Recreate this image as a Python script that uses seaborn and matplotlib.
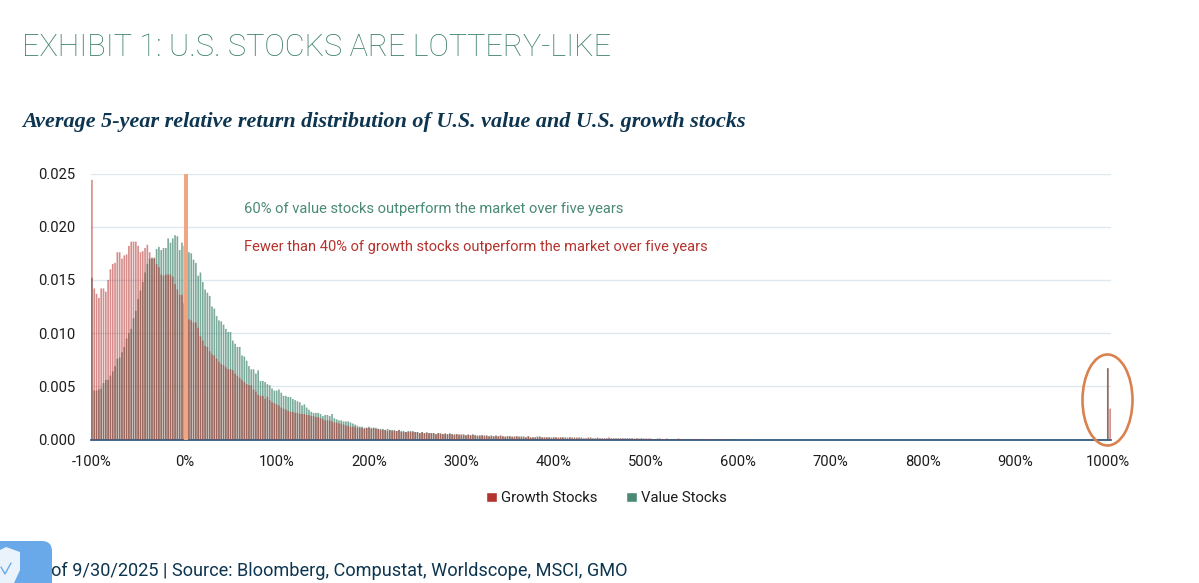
import numpy as np
import pandas as pd
import seaborn as sns
import matplotlib
matplotlib.use("Agg")
import matplotlib.pyplot as plt
from matplotlib.patches import Ellipse, FancyBboxPatch, Polygon, Patch
from matplotlib.lines import Line2D

W, H = 1199, 583

growth_neg = [.0244,.0142,.0137,.0133,.0142,.0142,.0139,.0150,.0160,.0165,.0166,.0176,.0176,.0170,.0173,.0174,.0182,.0186,.0186,.0186,
              .0182,.0176,.0177,.0180,.0183,.0176,.0170,.0171,.0165,.0162,.0155,.0154,.0155,.0155,.0155,.0153,.0146,.0141,.0136,.0136]
value_neg = [.0152,.0046,.0046,.0047,.0048,.0053,.0056,.0056,.0060,.0064,.0069,.0076,.0077,.0082,.0087,.0095,.0100,.0104,.0114,.0121,
             .0132,.0140,.0148,.0157,.0165,.0170,.0171,.0170,.0179,.0181,.0178,.0180,.0180,.0189,.0185,.0189,.0192,.0191,.0178,.0185]
growth_0 = [.0128,.0120,.0113,.0112,.0110,.0110,.0105,.0097,.0093,.0088,.0087,.0083,.0080,.0079,.0076,.0073,.0071,.0070,.0068,.0066,
            .0066,.0065,.0062,.0060,.0058,.0056,.0054,.0052,.0051,.0051,.0047,.0045,.0042,.0041,.0041,.0038,.0040,.0037,.0035,.0034]
value_0 = [.0182,.0180,.0176,.0175,.0169,.0166,.0154,.0157,.0148,.0141,.0138,.0135,.0125,.0123,.0116,.0112,.0111,.0108,.0104,.0101,
           .0101,.0093,.0090,.0087,.0087,.0079,.0078,.0074,.0069,.0066,.0066,.0062,.0065,.0055,.0055,.0054,.0052,.0051,.0048,.0046]
growth_100 = [.0033,.0032,.0030,.0029,.0028,.0027,.0026,.0026,.0025,.0025,.0024,.0024,.0024,.0023,.0023,.0022,.0022,.0021,.0021,.0020,
              .0019,.0018,.0018,.0018,.0017,.0016,.0016,.0015,.0015,.0014,.0013,.0013,.0012,.0012,.0012,.0011,.0011,.0011,.0010,.0011]
value_100 = [.0046,.0047,.0044,.0041,.0041,.0040,.0040,.0038,.0037,.0036,.0035,.0032,.0033,.0030,.0028,.0026,.0025,.0025,.0025,.0024,
             .0022,.0023,.0023,.0022,.0024,.0020,.0019,.0018,.0018,.0017,.0017,.0017,.0016,.0015,.0014,.0013,.0012,.0012,.0011,.0011]
growth_200 = [.0011,.0010,.0011,.0010,.0010,.0009,.0009,.0009,.0008,.0009,.0008,.0008,.0008,.0009,.0007,.0007,.0007,.0007,.0008,.0007,
              .0007,.0007,.0006,.0007,.0006,.0006,.0006,.0006,.0006,.0005,.0006,.0005,.0005,.0006,.0005,.0005,.0005,.0004,.0005,.0005]
value_200 = [.0012,.0011,.0011,.0011,.0010,.0010,.0010,.0009,.0010,.0009,.0009,.0009,.0008,.0009,.0008,.0008,.0007,.0008,.0007,.0008,
             .0007,.0007,.0006,.0007,.0006,.0007,.0006,.0006,.0006,.0005,.0006,.0006,.0005,.0005,.0005,.0006,.0005,.0005,.0005,.0004]
growth_300 = [.0005,.0004,.0004,.0005,.0004,.0004,.0004,.0004,.0003,.0004,.0004,.0003,.0003,.0004,.0003,.0003,.0003,.0004,.0003,.0003,
              .0003,.0003,.0003,.0002,.0003,.0003,.0002,.0003,.0002,.0003,.0002,.0002,.0002,.0003,.0002,.0002,.0002,.0002,.0002,.0002]
value_300 = [.0004,.0005,.0004,.0004,.0004,.0005,.0004,.0003,.0004,.0004,.0003,.0004,.0003,.0003,.0003,.0004,.0003,.0003,.0003,.0002,
             .0003,.0003,.0002,.0003,.0003,.0002,.0003,.0002,.0002,.0003,.0002,.0002,.0002,.0002,.0003,.0002,.0002,.0002,.0002,.0001]
growth_400 = [.0002,.0002,.0002,.0002,.0002,.0001,.0002,.0002,.0002,.0001,.0002,.0001,.0002,.0001,.0001,.0002,.0001,.0001,.0001,.0002,
              .0001,.0001,.0001,.0001,.0002,.0001,.0001,.0001,.0001,.0001,.0001,.0001,.0001,.0001,.0001,.0001,.0001,.0001,.0001,.0001]
value_400 = [.0002,.0002,.0001,.0002,.0002,.0002,.0001,.0002,.0001,.0002,.0001,.0002,.0001,.0001,.0001,.0001,.0002,.0001,.0001,.0001,
             .0001,.0001,.0001,.0001,.0001,.0001,.0001,.0001,.0001,.0001,.0001,.0001,.0001,.0001,.0001,.00005,.0001,.00005,.0001,.00005]
growth_500 = [.0001,.00005,.0001,.00005,.00005,.0001,.00005,.00005,.00005,.0001,.00005,.00005,.00005,.00005,.0001,.00005,.00005,.00005,.00005,.00005,
              .00005,.00005,.00005,.00004,.00005,.00004,.00005,.00004,.00004,.00005,.00004,.00004,.00004,.00004,.00003,.00004,.00003,.00004,.00003,.00003]
value_500 = [.00005,.0001,.00005,.00005,.00005,.00005,.0001,.00005,.00005,.00005,.00005,.00005,.00005,.00004,.00005,.00005,.00004,.00005,.00004,.00004,
             .00004,.00004,.00005,.00004,.00004,.00003,.00004,.00004,.00003,.00004,.00003,.00003,.00004,.00003,.00003,.00003,.00003,.00002,.00003,.00003]
growth_tail = [.0067, .0029]
value_tail = [.0067, 0.0]
tail_bins = [1000, 1002.5]

growth = growth_neg + growth_0 + growth_100 + growth_200 + growth_300 + growth_400 + growth_500 + growth_tail
value = value_neg + value_0 + value_100 + value_200 + value_300 + value_400 + value_500 + value_tail
n_regular = len(growth) - len(tail_bins)
bins = [-100 + 2.5 * i for i in range(n_regular)] + tail_bins

y_ticks = [0, .005, .010, .015, .020, .025]
x_ticks = [-100, 0, 100, 200, 300, 400, 500, 600, 700, 800, 900, 1000]
x_labels = [f"{t}%" for t in x_ticks]

GREEN = "#4a8a75"
RED = "#b5332e"
NAVY = "#0d3550"
FONT = "Roboto"

sns.set_theme(style="white")
plt.rcParams["font.family"] = [FONT, "DejaVu Sans"]

fig = plt.figure(figsize=(W / 100, H / 100), dpi=100, facecolor="white")

def fx(p): return p / W
def fy(p): return 1 - p / H

L, R, T, B = 90.5, 1111, 173.5, 439.5
ax = fig.add_axes([fx(L), fy(B), (R - L) / W, (B - T) / H])
df = pd.DataFrame({"bin": bins, "Growth": growth, "Value": value})

sns.barplot(data=df, x="bin", y="Value", native_scale=True, color=GREEN, alpha=.72,
            saturation=1, width=.72, linewidth=0, errorbar=None, ax=ax, zorder=2)
sns.barplot(data=df, x="bin", y="Growth", native_scale=True, color=RED, alpha=.56,
            saturation=1, width=.72, linewidth=0, errorbar=None, ax=ax, zorder=3)
for bar in ax.patches:
    bar.set_snap(False)

sc = 0.9235
ax.set_xlim((L - 184.3) / sc, (R - 184.3) / sc)
ax.set_ylim(0, .025)
ax.set_xticks(x_ticks, x_labels)
ax.set_yticks(y_ticks, [f"{t:.3f}" for t in y_ticks])
ax.set_xlabel("")
ax.set_ylabel("")
ax.tick_params(axis="both", length=0, labelsize=10.6, labelcolor="#1c1c1c")
ax.tick_params(axis="x", pad=11.5)
ax.tick_params(axis="y", pad=11)
ax.grid(axis="y", color="#dde8ef", linewidth=1.0, zorder=0)
ax.set_axisbelow(True)
for s in ("top", "left", "right"):
    ax.spines[s].set_visible(False)
ax.spines["bottom"].set_color("#1f4e79")
ax.spines["bottom"].set_linewidth(1.2)
ax.set_facecolor("none")

ax.axvline(2, color="#f0a583", linewidth=2.9, zorder=5, solid_capstyle="butt")

fig.text(fx(22), fy(47.5), "EXHIBIT 1: U.S. STOCKS ARE LOTTERY-LIKE", color="#3a7f69",
         fontsize=22.1, fontweight="light", va="center", ha="left")
fig.text(fx(22), fy(122), "Average 5-year relative return distribution of U.S. value and U.S. growth stocks",
         color=NAVY, fontsize=15.95, fontweight="bold", fontstyle="italic", va="center", ha="left",
         family=["Liberation Serif", "DejaVu Serif"])
fig.text(fx(244), fy(209), "60% of value stocks outperform the market over five years",
         color=GREEN, fontsize=10.6, va="center", ha="left")
fig.text(fx(244), fy(247), "Fewer than 40% of growth stocks outperform the market over five years",
         color=RED, fontsize=10.55, va="center", ha="left")
fig.text(fx(51), fy(570.5), "of 9/30/2025 | Source: Bloomberg, Compustat, Worldscope, MSCI, GMO",
         color=NAVY, fontsize=13.03, va="center", ha="left", zorder=1)

handles = [Patch(facecolor=RED, label="Growth Stocks"), Patch(facecolor=GREEN, label="Value Stocks")]
fig.legend(handles=handles, loc="center", bbox_to_anchor=(fx(606.5), fy(498)), ncol=2, frameon=False,
           fontsize=10.7, handlelength=.72, handleheight=.72, handletextpad=.3, columnspacing=1.9,
           labelcolor="#1c1c1c")

fig.add_artist(Ellipse((1107.5, H - 400), 50, 91, transform=None, fill=False,
                       edgecolor="#d9824f", linewidth=1.9, zorder=10))

# overlay badge at the lower left of the screenshot
fig.add_artist(FancyBboxPatch((-30, -30), 82, H - 541 + 30, boxstyle="round,pad=0,rounding_size=10",
                              transform=None, facecolor="#6aa9e9", edgecolor="none", zorder=11))
fig.add_artist(Polygon([(0, H - 550), (6, H - 547), (20, H - 552), (20, H - 570), (14, H - 583), (0, H - 583)], transform=None,
                       facecolor="#eaf3fc", edgecolor="none", zorder=12))
fig.add_artist(Line2D([1, 5, 11], [H - 567, H - 574, H - 563], transform=None, color="#6aa9e9",
                      linewidth=1, zorder=13))

fig.savefig("out.png", dpi=100)
